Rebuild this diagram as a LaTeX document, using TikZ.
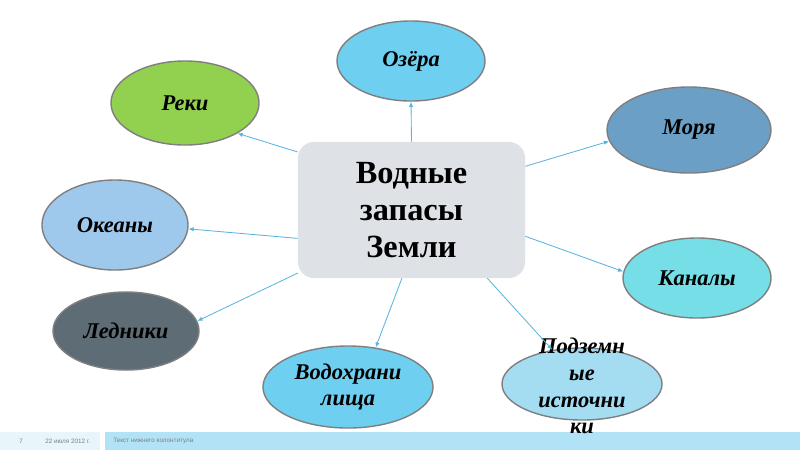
\documentclass[tikz,border=0pt]{standalone}
\usepackage{fontspec}
\setmainfont{Liberation Serif}
\newfontfamily\footfont{Liberation Sans}
\usepackage{xcolor}
\usetikzlibrary{arrows.meta,shapes.geometric}
\definecolor{boxgray}{HTML}{DEE2E6}
\definecolor{lakeblue}{HTML}{6FCFF0}
\definecolor{rivergreen}{HTML}{92D050}
\definecolor{seablue}{HTML}{6C9FC5}
\definecolor{oceanblue}{HTML}{9FC9EC}
\definecolor{canalcyan}{HTML}{75DEE7}
\definecolor{glacier}{HTML}{5E6C76}
\definecolor{groundblue}{HTML}{A4DCF2}
\definecolor{linkblue}{HTML}{5AB4E0}
\definecolor{rimgray}{HTML}{7F7F7F}
\definecolor{footlight}{HTML}{E8F5FB}
\definecolor{footbar}{HTML}{B2E2F5}
\tikzset{
centre/.style={
fill=boxgray,
rounded corners=0.4cm,
minimum width=5.675cm,
minimum height=3.4cm,
align=center,
font=\fontsize{23}{26.5}\selectfont\bfseries
},
bubble/.style={
ellipse,
draw=rimgray,
line width=1pt,
inner sep=0pt,
align=center,
font=\fontsize{16}{19}\selectfont\bfseries\itshape
},
bubtext/.style={
align=center,
inner sep=0pt,
font=\fontsize{16}{19}\selectfont\bfseries\itshape
},
link/.style={
-{Latex[length=1.3mm,width=1.1mm]},
draw=linkblue,
line width=0.6pt
},
foot/.style={
font=\footfont\fontsize{4.5}{5}\selectfont,
text=rimgray,
inner sep=0pt,
anchor=west
}
}

\begin{document}
\begin{tikzpicture}[x=0.025cm,y=-0.025cm]
\useasboundingbox (0,0) rectangle (800,450);
% footer
\fill[footlight] (0,432) rectangle (100,450);
\fill[footbar] (105,432) rectangle (800,450);
\node[foot] (pagenum) at (19,441) {7};
\node[foot] (date) at (45,441) {22 июля 2012 г.};
\node[foot] (foottext) at (113,441) {Текст нижнего колонтитула};

\node[centre] (box) at (411.5,210) {Водные\\запасы\\Земли};

\node[bubble,fill=lakeblue,minimum width=3.7cm,minimum height=2cm] (ozera) at (411,61) {Озёра};
\node[bubble,fill=rivergreen,minimum width=3.7cm,minimum height=2.1cm] (reki) at (185,103) {Реки};
\node[bubble,fill=seablue,minimum width=4.1cm,minimum height=2.15cm] (morya) at (689,130) {Моря};
\node[bubble,fill=oceanblue,minimum width=3.65cm,minimum height=2.25cm] (okeany) at (115,225) {Океаны};
\node[bubble,fill=canalcyan,minimum width=3.7cm,minimum height=2cm] (kanaly) at (697,278) {Каналы};
\node[bubble,fill=glacier,minimum width=3.65cm,minimum height=1.95cm] (ledniki) at (126,331) {Ледники};
\node[bubble,fill=lakeblue,minimum width=4.25cm,minimum height=2.05cm] (vodokhr) at (348,387) {Водохрани\\лища};
\node[bubble,fill=groundblue,minimum width=4cm,minimum height=1.8cm] (podz) at (582,384) {};
\node[bubtext] (podztext) at (582,386) {Подземн\\ые\\источни\\ки};

\foreach \to/\a/\b in {ozera/90/270,reki/153/330,morya/21/188,okeany/194/357,kanaly/347/175,ledniki/209/8,vodokhr/262/55,podz/318/131}
\draw[link](box.\a)--(\to.\b);
\end{tikzpicture}
\end{document}
